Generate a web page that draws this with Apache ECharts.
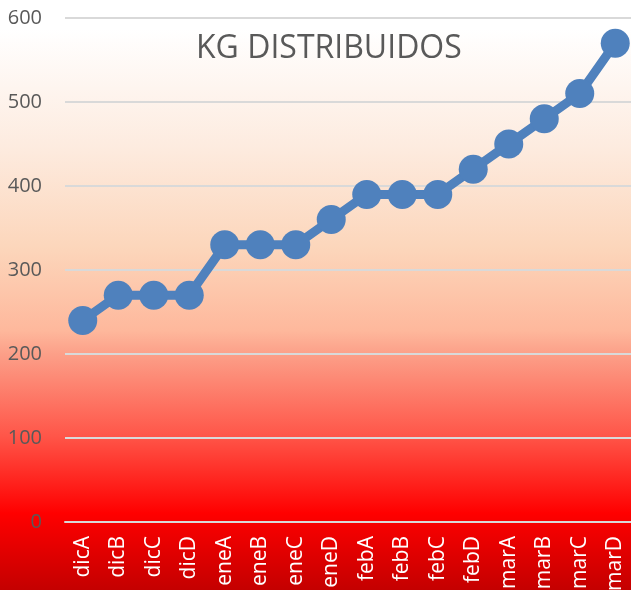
<!DOCTYPE html>
<html>
<head>
<meta charset="utf-8">
<script src="https://cdn.jsdelivr.net/npm/echarts@6/dist/echarts.min.js"></script>
<style>
  html, body { margin: 0; padding: 0; }
  #chart { width: 631px; height: 590px; }
</style>
</head>
<body>
<div id="chart"></div>
<script>
// datos
var categories = ['dicA', 'dicB', 'dicC', 'dicD', 'eneA', 'eneB', 'eneC', 'eneD',
                  'febA', 'febB', 'febC', 'febD', 'marA', 'marB', 'marC', 'marD'];
var kgValues = [240, 270, 270, 270, 330, 330, 330, 360, 390, 390, 390, 420, 450, 480, 510, 570];

var chart = echarts.init(document.getElementById('chart'));

var option = {
  // fondo degradado blanco -> rojo
  backgroundColor: new echarts.graphic.LinearGradient(0, 0, 0, 1, [
    { offset: 0, color: '#ffffff' },
    { offset: 0.05, color: '#ffffff' },
    { offset: 0.25, color: '#fdebdf' },
    { offset: 0.42, color: '#fcd6bb' },
    { offset: 0.56, color: '#feb89c' },
    { offset: 0.6, color: '#fc9f88' },
    { offset: 0.74, color: '#ff5548' },
    { offset: 0.87, color: '#ff0000' },
    { offset: 1, color: '#c40000' }
  ]),
  title: {
    text: 'KG DISTRIBUIDOS',
    left: 191,
    top: 28,
    textStyle: {
      fontFamily: 'Open Sans',
      fontWeight: 'normal',
      fontSize: 32,
      color: '#595959'
    }
  },
  grid: {
    left: 65,
    right: -2,
    top: 18,
    bottom: 68,
    outerBoundsMode: 'none'
  },
  xAxis: {
    type: 'category',
    data: categories,
    axisLine: { lineStyle: { color: '#d9d9d9', width: 2 } },
    axisTick: { length: 8, lineStyle: { color: '#d9d9d9', width: 2 } },
    axisLabel: {
      rotate: 90,
      margin: 14,
      color: '#ffffff',
      fontSize: 21,
      fontFamily: 'Open Sans'
    }
  },
  yAxis: {
    type: 'value',
    min: 0,
    max: 600,
    interval: 100,
    axisLine: { show: false },
    axisTick: { show: false },
    axisLabel: {
      color: '#595959',
      fontSize: 20,
      margin: 23,
      fontFamily: 'Open Sans'
    },
    splitLine: { lineStyle: { color: '#d9d9d9', width: 2 } }
  },
  series: [
    {
      name: 'KG',
      type: 'line',
      data: kgValues,
      symbol: 'circle',
      symbolSize: 29,
      lineStyle: { color: '#4f81bd', width: 9 },
      itemStyle: { color: '#4f81bd' }
    }
  ]
};

chart.setOption(option);
</script>
</body>
</html>
